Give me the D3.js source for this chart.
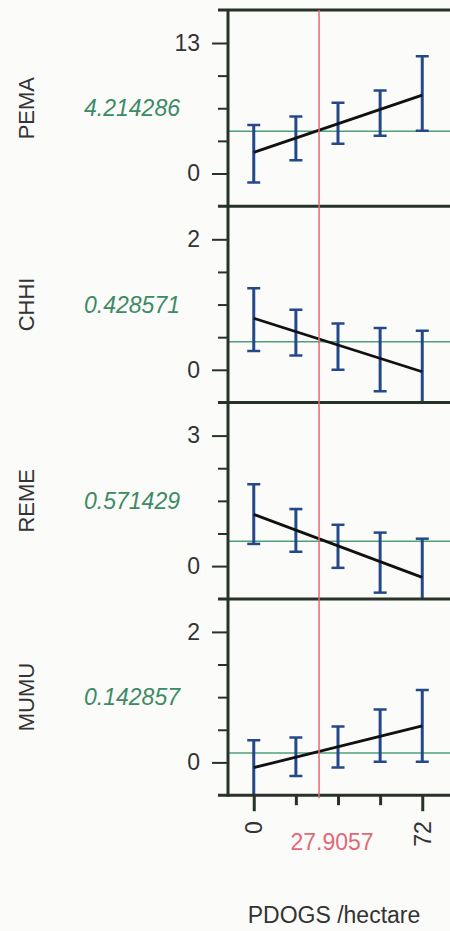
<!DOCTYPE html>
<html>
<head>
<meta charset="utf-8">
<script src="https://cdn.jsdelivr.net/npm/d3@7"></script>
<style>
  body { margin: 0; background: #fbfbf9; }
  svg { display: block; font-family: 'Liberation Sans', Arial, sans-serif; }
</style>
</head>
<body>
<svg id="chart"></svg>
<script>
const width = 450;
const height = 931;

const species = ['PEMA', 'CHHI', 'REME', 'MUMU'];
const means = [4.214286, 0.428571, 0.571429, 0.142857];
const tickMax = [13, 2, 3, 2];
const pdogs = [0, 18, 36, 54, 72];
const critical = 27.9057;
const fitStart = [2.1, 0.79, 1.19, -0.08];
const fitEnd = [7.8, -0.03, -0.26, 0.56];
const upper = [
    [4.84, 5.67, 7.04, 8.27, 11.67],
    [1.25, 0.92, 0.71, 0.64, 0.60],
    [1.88, 1.31, 0.95, 0.77, 0.63],
    [0.34, 0.38, 0.55, 0.81, 1.11]
];
const lower = [
    [-0.9, 1.33, 2.97, 3.77, 4.27],
    [0.29, 0.22, 0.0, -0.33, -0.64],
    [0.51, 0.33, -0.04, -0.61, -1.19],
    [-0.56, -0.21, -0.08, 0.01, 0.01]
];

const colors = {
    frame: '#263326',
    bar: '#24498a',
    mean: '#4f9f78',
    meanText: '#3d8a66',
    red: '#e06a78',
    text: '#333'
};

const plotLeft = 228, plotRight = 470, plotTop = 10, panelH = 196.3;
const plotBottom = plotTop + panelH * species.length;

const x = d3.scaleLinear().domain([-11, 92.4]).range([plotLeft, plotRight]);

const svg = d3.select('#chart').attr('width', width).attr('height', height);

species.forEach((name, i) => {
    const t = plotTop + i * panelH;
    const y = d3.scaleLinear().domain([0, tickMax[i]]).range([t + 163.5, t + 33]);
    const g = svg.append('g');

    g.append('clipPath').attr('id', `clip${i}`)
        .append('rect').attr('x', plotLeft).attr('y', t).attr('width', plotRight - plotLeft).attr('height', panelH);

    const plot = g.append('g').attr('clip-path', `url(#clip${i})`);

    // mean line
    plot.append('line')
        .attr('x1', plotLeft).attr('x2', plotRight)
        .attr('y1', y(means[i])).attr('y2', y(means[i]))
        .attr('stroke', colors.mean).attr('stroke-width', 1.5);

    // error bars
    const bars = plot.selectAll('.bar').data(pdogs).enter().append('g');
    bars.append('line')
        .attr('x1', d => x(d)).attr('x2', d => x(d))
        .attr('y1', (d, j) => y(upper[i][j])).attr('y2', (d, j) => y(lower[i][j]))
        .attr('stroke', colors.bar).attr('stroke-width', 3);
    [upper, lower].forEach(arr => {
        bars.append('line')
            .attr('x1', d => x(d) - 6.5).attr('x2', d => x(d) + 6.5)
            .attr('y1', (d, j) => y(arr[i][j])).attr('y2', (d, j) => y(arr[i][j]))
            .attr('stroke', colors.bar).attr('stroke-width', 2.5);
    });

    // fitted line
    plot.append('line')
        .attr('x1', x(pdogs[0])).attr('x2', x(pdogs[pdogs.length - 1]))
        .attr('y1', y(fitStart[i])).attr('y2', y(fitEnd[i]))
        .attr('stroke', '#111').attr('stroke-width', 2.8);

    // y ticks
    const major = g.append('g').attr('transform', `translate(${plotLeft},0)`)
        .call(d3.axisLeft(y).tickValues([0, tickMax[i]]).tickSize(16).tickPadding(12).tickFormat(d3.format('d')));
    const minor = g.append('g').attr('transform', `translate(${plotLeft},0)`)
        .call(d3.axisLeft(y).tickValues([1, 2, 3].map(k => tickMax[i] * k / 4)).tickSize(10).tickFormat(''));
    [major, minor].forEach(a => {
        a.select('.domain').remove();
        a.selectAll('line').attr('stroke', colors.frame).attr('stroke-width', 2);
    });
    major.selectAll('text')
        .attr('fill', colors.text).style('font-size', '23px');

    // species label
    g.append('text')
        .attr('transform', `translate(26,${t + panelH / 2}) rotate(-90)`)
        .attr('text-anchor', 'middle').attr('dy', '0.35em')
        .attr('fill', colors.text).style('font-size', '22px')
        .text(name);

    // mean label
    g.append('text')
        .attr('x', 180).attr('y', t + panelH / 2).attr('dy', '0.35em')
        .attr('text-anchor', 'end')
        .attr('fill', colors.meanText).style('font-size', '23px').style('font-style', 'italic')
        .text(d3.format('.6f')(means[i]));

    // panel border line
    svg.append('line')
        .attr('x1', plotLeft - 10).attr('x2', width)
        .attr('y1', t).attr('y2', t)
        .attr('stroke', colors.frame).attr('stroke-width', 3);
});

// bottom border
svg.append('line')
    .attr('x1', plotLeft - 10).attr('x2', width)
    .attr('y1', plotBottom).attr('y2', plotBottom)
    .attr('stroke', colors.frame).attr('stroke-width', 3);

// critical value line
svg.append('line')
    .attr('x1', x(critical)).attr('x2', x(critical))
    .attr('y1', plotTop).attr('y2', plotBottom + 3)
    .attr('stroke', colors.red).attr('stroke-width', 1.5);

// vertical axis line
svg.append('line')
    .attr('x1', plotLeft).attr('x2', plotLeft)
    .attr('y1', plotTop).attr('y2', plotBottom + 1.5)
    .attr('stroke', colors.frame).attr('stroke-width', 3);

// x axis
const xMajor = svg.append('g').attr('transform', `translate(0,${plotBottom})`)
    .call(d3.axisBottom(x).tickValues([0, 72]).tickSize(16).tickFormat(d3.format('d')));
const xMinor = svg.append('g').attr('transform', `translate(0,${plotBottom})`)
    .call(d3.axisBottom(x).tickValues([18, 36, 54]).tickSize(10).tickFormat(''));
[xMajor, xMinor].forEach(a => {
    a.select('.domain').remove();
    a.selectAll('line').attr('stroke', colors.frame).attr('stroke-width', 3);
});
xMajor.selectAll('text')
    .attr('transform', 'rotate(-90)')
    .attr('text-anchor', 'end')
    .attr('x', -26).attr('y', 0).attr('dy', '0.35em')
    .attr('fill', colors.text).style('font-size', '23px');

svg.append('text')
    .attr('x', 332).attr('y', 850)
    .attr('text-anchor', 'middle')
    .attr('fill', colors.red).style('font-size', '23px')
    .text(critical);

svg.append('text')
    .attr('x', 334).attr('y', 923)
    .attr('text-anchor', 'middle')
    .attr('fill', colors.text).style('font-size', '23px')
    .text('PDOGS /hectare');
</script>
</body>
</html>
